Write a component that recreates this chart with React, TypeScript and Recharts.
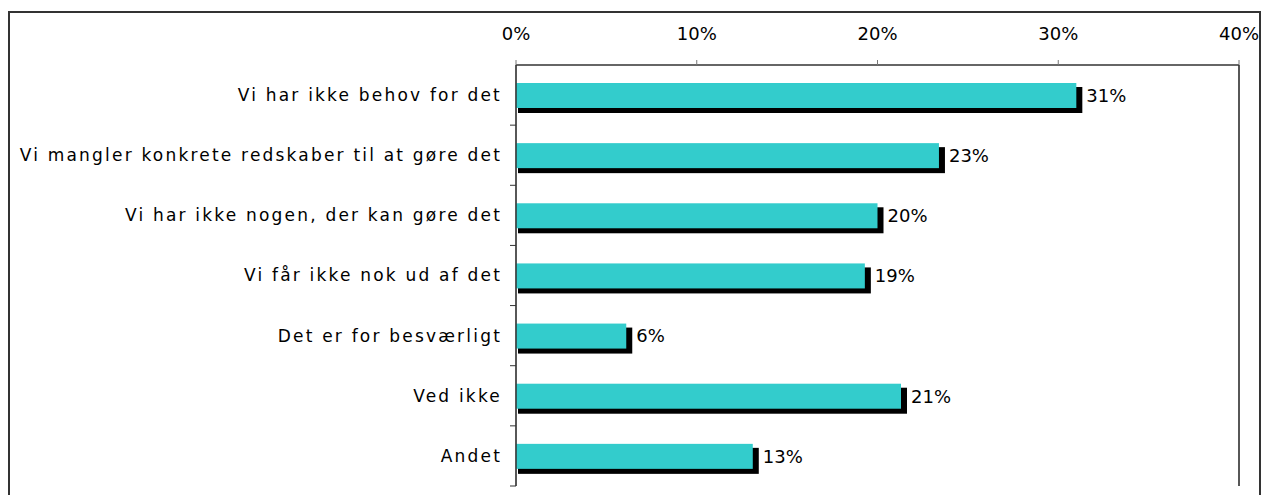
import { BarChart, Bar, XAxis, YAxis, CartesianGrid, ReferenceLine, LabelList } from 'recharts';

const categories = [
  'Vi har ikke behov for det',
  'Vi mangler konkrete redskaber til at gøre det',
  'Vi har ikke nogen, der kan gøre det',
  'Vi får ikke nok ud af det',
  'Det er for besværligt',
  'Ved ikke',
  'Andet',
];
const shares = [31.0, 23.4, 20.0, 19.3, 6.1, 21.3, 13.1];
const xTicks = [0, 10, 20, 30, 40];

const data = categories.map((name, i) => ({ name, value: shares[i] }));

const FONT = '"DejaVu Sans", Verdana, sans-serif';
const PLOT_TOP = 65;
const PLOT_BOTTOM = 486;
const BAND = (PLOT_BOTTOM - PLOT_TOP) / categories.length;

// cyan bar with a black drop shadow behind it
function ShadowBar(props: any) {
  const { x, y, width, height } = props;
  if (width <= 0) return null;
  return (
    <g>
      <rect x={x + 2} y={y + 4} width={width + 4} height={height + 1} fill="#000" />
      <rect x={x} y={y} width={width} height={height} fill="#33cccc" />
    </g>
  );
}

function CategoryTick(props: any) {
  const { x, y, payload } = props;
  const axisX = x + 16;
  const by = y + BAND / 2;
  return (
    <g>
      <line x1={axisX - 6} y1={by} x2={axisX} y2={by} stroke="#333" />
      <text x={x + 2} y={y} dy="0.35em" textAnchor="end" fontFamily={FONT} fontSize={17} letterSpacing={2.2} fill="#000">
        {payload.value}
      </text>
    </g>
  );
}

export default function App() {
  return (
    <div style={{ position: 'absolute', left: 0, top: 0, width: 1261, height: 495, overflow: 'hidden', background: '#fff' }}>
      <div
        style={{
          position: 'absolute',
          left: 8,
          top: 11,
          width: 1249,
          height: 520,
          borderLeft: '2px solid #333',
          borderTop: '2px solid #333',
          borderRight: '2px solid #333',
        }}
      />
      <div style={{ position: 'absolute', left: 0, top: 0 }}>
        <BarChart
          width={1261}
          height={495}
          data={data}
          layout="vertical"
          margin={{ top: 20, right: 22, bottom: 9, left: 0 }}
          barSize={25}
        >
          <CartesianGrid horizontal={false} stroke="#888" />
          <XAxis
            xAxisId="top"
            type="number"
            orientation="top"
            domain={[0, 40]}
            ticks={xTicks}
            height={45}
            tickSize={5}
            tickMargin={20}
            tickFormatter={(v) => `${v}%`}
            tick={{ fontFamily: FONT, fontSize: 18, fill: '#000' }}
            axisLine={{ stroke: '#333', strokeWidth: 1.5 }}
            tickLine={{ stroke: '#777' }}
          />
          <XAxis
            xAxisId="bottom"
            type="number"
            orientation="bottom"
            domain={[0, 40]}
            height={0}
            tick={false}
            tickLine={false}
            axisLine={{ stroke: '#333', strokeWidth: 1.5 }}
          />
          <YAxis
            type="category"
            dataKey="name"
            width={516}
            tickSize={6}
            tickMargin={10}
            tickLine={false}
            axisLine={{ stroke: '#333', strokeWidth: 1.5 }}
            tick={<CategoryTick />}
            interval={0}
          />
          <ReferenceLine xAxisId="top" x={40} stroke="#333" strokeWidth={1.5} />
          <Bar xAxisId="top" dataKey="value" shape={<ShadowBar />} isAnimationActive={false}>
            <LabelList
              dataKey="value"
              position="right"
              offset={10}
              formatter={(v: any) => `${Math.round(v)}%`}
              style={{ fontFamily: FONT, fontSize: 18, fill: '#000' }}
            />
          </Bar>
        </BarChart>
      </div>
    </div>
  );
}
